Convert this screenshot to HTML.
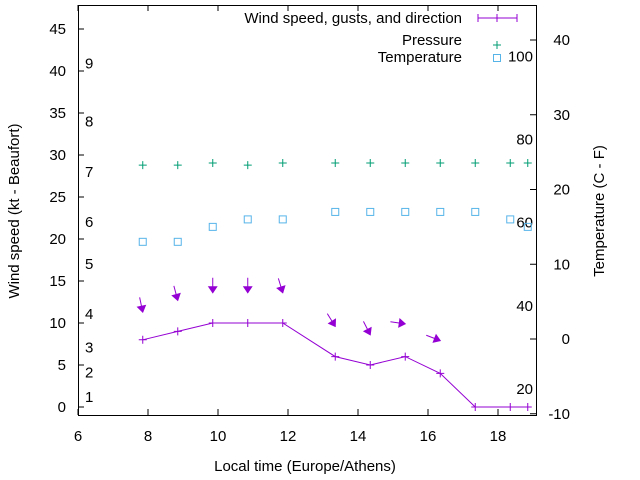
<!DOCTYPE html>
<html><head><meta charset="utf-8"><style>
body{margin:0;background:#fff}
svg{display:block;font-family:"Liberation Sans",sans-serif;font-size:15px}
</style></head><body>
<svg id="chart" width="640" height="480" viewBox="0 0 640 480">
<g id="axes"></g><g id="marks"></g>
<text x="305" y="471" text-anchor="middle">Local time (Europe/Athens)</text>
<text transform="translate(19,211) rotate(-90)" text-anchor="middle">Wind speed (kt - Beaufort)</text>
<text transform="translate(604,211) rotate(-90)" text-anchor="middle">Temperature (C - F)</text>
<g>
<text x="462" y="23" text-anchor="end">Wind speed, gusts, and direction</text>
<line x1="478" y1="18" x2="517" y2="18" stroke="#9400d3" stroke-width="1"/>
<path d="M478,14V22M517,14V22M497,14V22" stroke="#9400d3"/>
<text x="462" y="45" text-anchor="end">Pressure</text>
<path d="M497,41V49M493,45H501" stroke="#009e73"/>
<text x="462" y="62" text-anchor="end">Temperature</text>
<rect x="493.5" y="54.5" width="7" height="7" fill="none" stroke="#56b4e9"/>
</g>
</svg>
<script>
const times=[7.85,8.85,9.85,10.85,11.85,13.35,14.35,15.35,16.35,17.35,18.35,18.85];
const wind=[8,9,10,10,10,6,5,6,4,0,0,0];
const pressure=[28.8,28.8,29.05,28.8,29.05,29.05,29.05,29.05,29.05,29.05,29.05,29.05];
const temperature=[13,13,15,16,16,17,17,17,17,17,16,15];
const arrowTimes=[7.85,8.85,9.85,10.85,11.85,13.35,14.35,15.35,16.35];
const gust=[11.3,12.7,13.6,13.6,13.6,9.6,8.6,9.9,7.9];
const direction=[348,345,0,0,343,328,333,278,291];
const xTicks=[6,8,10,12,14,16,18];
const yTicks=[0,5,10,15,20,25,30,35,40,45];
const y2Ticks=[-10,0,10,20,30,40];
const beaufort=[[1,1.2],[2,4.1],[3,7.1],[4,11.1],[5,17],[6,22],[7,28],[8,34],[9,40.9]];
const fahrenheit=[20,40,60,80,100];

const L=78,R=536,T=5,B=415;
const x=t=>L+35*(t-6);
const y=v=>407-8.4*v;
const y2=c=>339-7.475*c;
const NS='http://www.w3.org/2000/svg';
function mk(tag,attrs,parent,txt){const e=document.createElementNS(NS,tag);for(const k in attrs)e.setAttribute(k,attrs[k]);if(txt!==undefined)e.textContent=txt;parent.appendChild(e);return e;}
const ax=document.getElementById('axes'),mg=document.getElementById('marks');
let e=mk('rect',{x:L+.5,y:T+.5,width:R-L,height:B-T,fill:'none',stroke:'#000'},ax);


xTicks.forEach(t=>{
 e=mk('path',{d:`M${x(t)},${B}v-6M${x(t)},${T}v6`,stroke:'#000'},ax);
 
 
 e=mk('text',{x:x(t),y:441,'text-anchor':'middle'},ax,t);
 
 
});
yTicks.forEach(v=>{
 e=mk('path',{d:`M${L},${y(v)}h6`,stroke:'#000'},ax);
 
 
 e=mk('text',{x:66,y:y(v)+5,'text-anchor':'end'},ax,v);
 
 
});
y2Ticks.forEach(v=>{
 e=mk('path',{d:`M${R},${y2(v)}h-6`,stroke:'#000'},ax);
 
 
 e=mk('text',{x:570,y:y2(v)+5,'text-anchor':'end'},ax,v);
 
 
});
beaufort.forEach(([b,v])=>{
 e=mk('text',{x:85,y:y(v)+5},ax,b);
 
 
});
fahrenheit.forEach(f=>{
 const c=(f-32)*5/9;
 e=mk('text',{x:533,y:y2(c)+5,'text-anchor':'end'},ax,f);
 
 
});
e=mk('polyline',{points:times.map((t,i)=>x(t)+','+y(wind[i])).join(' '),fill:'none',stroke:'#9400d3'},mg);


times.forEach((t,i)=>{
 e=mk('path',{d:`M${x(t)-4},${y(wind[i])}h8M${x(t)},${y(wind[i])-4}v8`,stroke:'#9400d3'},mg);
 
 
 e=mk('path',{d:`M${x(t)-4},${y(pressure[i])}h8M${x(t)},${y(pressure[i])-4}v8`,stroke:'#009e73'},mg);
 
 
 e=mk('rect',{x:x(t)-3.5,y:y2(temperature[i])-3.5,width:7,height:7,fill:'none',stroke:'#56b4e9'},mg);
 
 
});
arrowTimes.forEach((t,i)=>{
 const a=direction[i]*Math.PI/180,dx=-Math.sin(a),dy=Math.cos(a);
 const hx=x(t),hy=y(gust[i]),len=15;
 const tx=hx-dx*len,ty=hy-dy*len;
 const bx=hx-dx*6,by=hy-dy*6,px=-dy*4,py=dx*4;
 e=mk('g',{},mg);
 
 
 mk('line',{x1:tx,y1:ty,x2:hx,y2:hy,stroke:'#9400d3'},e);
 mk('polygon',{points:`${hx},${hy} ${bx+px},${by+py} ${bx-px},${by-py}`,fill:'#9400d3',stroke:'#9400d3'},e);
});
</script>
</body></html>
